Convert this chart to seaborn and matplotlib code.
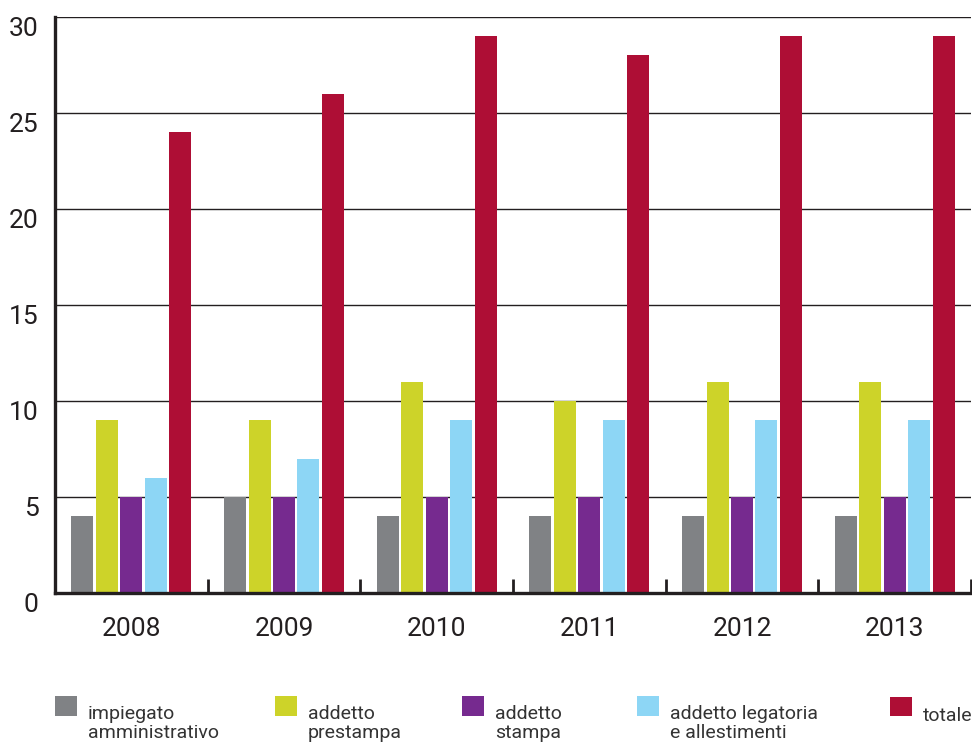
import matplotlib
matplotlib.use("Agg")
import matplotlib.pyplot as plt
import matplotlib.patches as mpatches
from matplotlib.legend_handler import HandlerPatch
import seaborn as sns
import pandas as pd
import numpy as np

# Staff by role, 2008-2013
anni = ["2008", "2009", "2010", "2011", "2012", "2013"]
ruoli = [
    "impiegato\namministrativo",
    "addetto\nprestampa",
    "addetto\nstampa",
    "addetto legatoria\ne allestimenti",
    "totale",
]
impiegato_amministrativo = [4, 5, 4, 4, 4, 4]
addetto_prestampa = [9, 9, 11, 10, 11, 11]
addetto_stampa = [5, 5, 5, 5, 5, 5]
addetto_legatoria = [6, 7, 9, 9, 9, 9]
totale = [24, 26, 29, 28, 29, 29]

colori = ["#808285", "#cdd329", "#762a8f", "#8dd6f5", "#ae0e35"]

serie = [impiegato_amministrativo, addetto_prestampa, addetto_stampa,
         addetto_legatoria, totale]
df = pd.DataFrame(
    [(a, r, v) for r, vals in zip(ruoli, serie) for a, v in zip(anni, vals)],
    columns=["anno", "ruolo", "valore"],
)

sns.set_style("white")
plt.rcParams["font.family"] = ["Roboto", "DejaVu Sans"]
ink = "#231f20"

fig = plt.figure(figsize=(9.72, 7.42), dpi=100)
ax = fig.add_axes([55 / 972, 1 - 593 / 742, 916 / 972, 576 / 742])

sns.barplot(data=df, x="anno", y="valore", hue="ruolo", hue_order=ruoli,
            order=anni, palette=colori, width=0.8, gap=0.1, saturation=1,
            linewidth=0, ax=ax, zorder=3)

handles, labels = ax.get_legend_handles_labels()
if ax.get_legend() is not None:
    ax.get_legend().remove()

ax.set_xlim(-0.5, 5.5)
ax.set_ylim(0, 30)
ax.set_yticks(range(0, 31, 5))
ax.set_xlabel("")
ax.set_ylabel("")

# horizontal grid behind the bars
ax.set_axisbelow(True)
ax.yaxis.grid(True, color=ink, linewidth=1.0, zorder=0)
ax.xaxis.grid(False)

for side in ["top", "right"]:
    ax.spines[side].set_visible(False)
for side in ["left", "bottom"]:
    ax.spines[side].set_visible(True)
    ax.spines[side].set_color(ink)
    ax.spines[side].set_linewidth(2.4)
    ax.spines[side].set_zorder(4)

ax.tick_params(axis="y", left=False, length=0, pad=12, labelsize=19,
               labelcolor=ink)
for t in ax.get_yticklabels():
    t.set_verticalalignment("top")
ax.tick_params(axis="x", which="major", bottom=True, length=0, pad=17,
               labelsize=19, labelcolor=ink)
# separators between year groups
ax.set_xticks(np.arange(0.5, 6.0, 1.0), minor=True)
ax.tick_params(axis="x", which="minor", bottom=True, direction="in",
               length=10, width=2, color=ink)

# legend entries along the bottom, square sitting on the first text line
leg_size = 14
line_pts = 7.0
base_pts = 6.0


def square_for(nlines):
    def make(legend, orig_handle, xdescent, ydescent, width, height, fontsize):
        shift = (nlines - 1) * line_pts + base_pts
        return mpatches.Rectangle((-xdescent, -ydescent + shift), width, height)
    return make


xs = [55, 275, 462, 637, 890]
for h, lab, x in zip(handles, labels, xs):
    n = lab.count("\n") + 1
    leg = fig.legend([h], [lab], loc="upper left",
                     bbox_to_anchor=(x / 972, 1 - 705 / 742),
                     frameon=False, fontsize=leg_size, handlelength=1.15,
                     handleheight=1.15, handletextpad=0.55, borderpad=0,
                     borderaxespad=0, labelcolor="#333333",
                     handler_map={type(h): HandlerPatch(patch_func=square_for(n))})
    for t in leg.get_texts():
        t.set_linespacing(1.1)

fig.savefig("out.png", dpi=100)
